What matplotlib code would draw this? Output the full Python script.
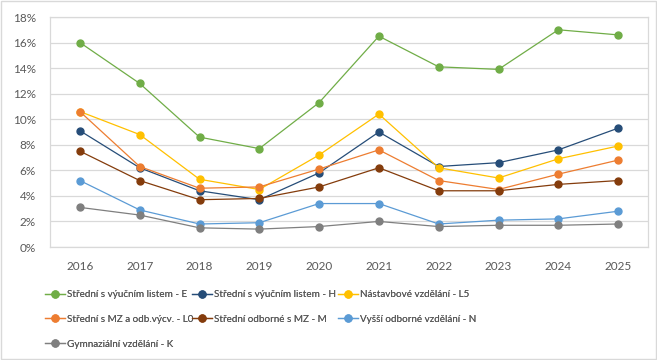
import matplotlib.pyplot as plt
from matplotlib.patches import Rectangle
from matplotlib.ticker import FuncFormatter

years = ["2016", "2017", "2018", "2019", "2020", "2021", "2022", "2023", "2024", "2025"]

stredni_e = [16.0, 12.8, 8.6, 7.7, 11.3, 16.5, 14.1, 13.9, 17.0, 16.6]
stredni_h = [9.1, 6.2, 4.4, 3.7, 5.8, 9.0, 6.3, 6.6, 7.6, 9.3]
nastavbove_l5 = [10.6, 8.8, 5.3, 4.5, 7.2, 10.4, 6.2, 5.4, 6.9, 7.9]
stredni_l0 = [10.6, 6.3, 4.6, 4.7, 6.1, 7.6, 5.2, 4.5, 5.7, 6.8]
odborne_m = [7.5, 5.2, 3.7, 3.8, 4.7, 6.2, 4.4, 4.4, 4.9, 5.2]
vyssi_n = [5.2, 2.9, 1.8, 1.9, 3.4, 3.4, 1.8, 2.1, 2.2, 2.8]
gymnazialni_k = [3.1, 2.5, 1.5, 1.4, 1.6, 2.0, 1.6, 1.7, 1.7, 1.8]

series = [
    ("Střední s výučním listem - E", stredni_e, "#70AD47"),
    ("Střední s výučním listem - H", stredni_h, "#264D78"),
    ("Nástavbové vzdělání - L5", nastavbove_l5, "#FFC000"),
    ("Střední s MZ a odb.výcv. - L0", stredni_l0, "#ED7D31"),
    ("Střední odborné s MZ - M", odborne_m, "#843C0C"),
    ("Vyšší odborné vzdělání - N", vyssi_n, "#5B9BD5"),
    ("Gymnaziální vzdělání - K", gymnazialni_k, "#7F7F7F"),
]

plt.rcParams["font.family"] = ["Lato", "DejaVu Sans"]
text_color = "#595959"

fig = plt.figure(figsize=(6.57, 3.6), dpi=100)
fig.patches.append(Rectangle((0.001, 0.002), 0.997, 0.995, transform=fig.transFigure,
                             fill=False, edgecolor="#D9D9D9", linewidth=1))
ax = fig.add_axes([50 / 657, 113 / 360, 598 / 657, 230 / 360])

x = list(range(len(years)))
handles = []
for name, vals, color in series:
    h, = ax.plot(x, vals, color=color, linewidth=0.9, marker="o", markersize=5,
                 label=name)
    handles.append(h)

ax.set_xlim(-0.5, len(years) - 0.5)
ax.set_ylim(0, 18)
ax.set_yticks(range(0, 19, 2))
ax.yaxis.set_major_formatter(FuncFormatter(lambda v, p: f"{v:.0f}%"))
ax.set_xticks(x)
ax.set_xticklabels(years)
ax.grid(axis="y", color="#D9D9D9", linewidth=0.9)
ax.set_axisbelow(True)
for s in ax.spines.values():
    s.set_color("#D9D9D9")
    s.set_linewidth(0.9)
ax.tick_params(length=0, colors=text_color, labelsize=8.5)
ax.tick_params(axis="x", pad=10)
ax.tick_params(axis="y", pad=10)

# Excel lays the legend out row by row in fixed-width columns
columns = [[0, 3, 6], [1, 4], [2, 5]]
col_left = [45, 192, 338]
for idx, left in zip(columns, col_left):
    leg = fig.legend([handles[i] for i in idx], [series[i][0] for i in idx],
                     loc="upper left", bbox_to_anchor=(left / 657, 1 - 290 / 360),
                     frameon=False, fontsize=7.1, labelcolor=text_color,
                     handlelength=2.0, handletextpad=0.25, borderpad=0,
                     labelspacing=1.6, borderaxespad=0)
    fig.add_artist(leg)

fig.savefig("out.png", dpi=100)
